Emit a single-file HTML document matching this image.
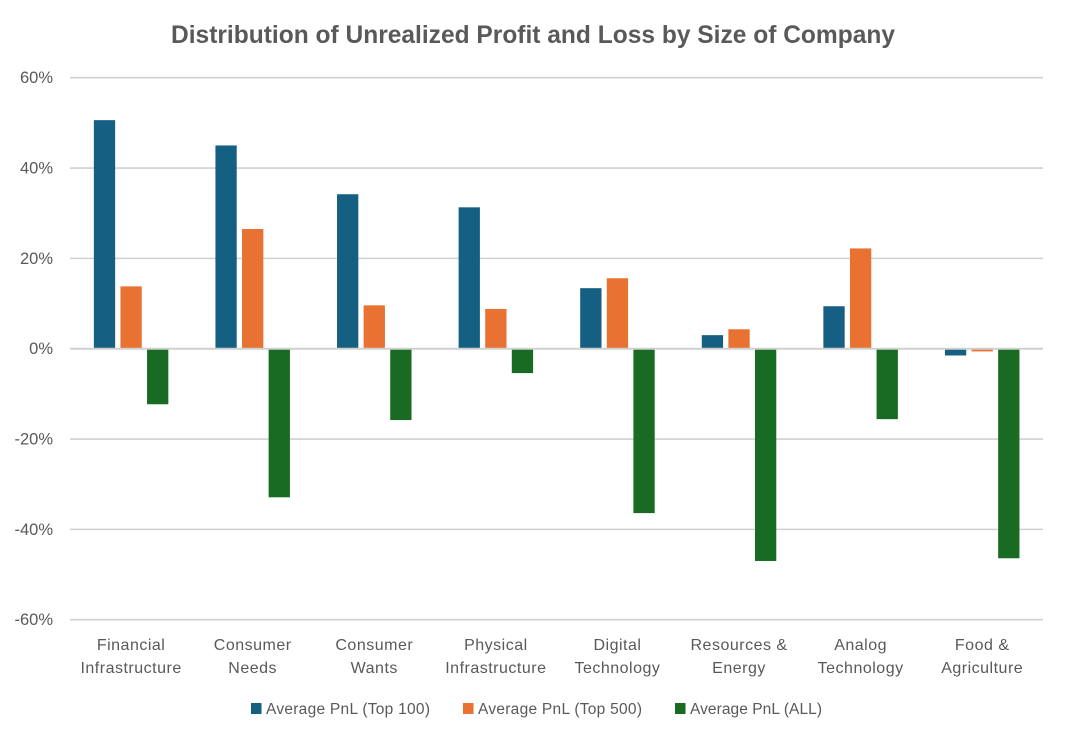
<!DOCTYPE html>
<html lang="en">
<head>
<meta charset="utf-8">
<title>Distribution of Unrealized Profit and Loss by Size of Company</title>
<style>
html,body{margin:0;padding:0;background:#fff;}
svg{display:block;font-family:"Liberation Sans",sans-serif;}
text{fill:#595959;}
</style>
</head>
<body>
<svg id="chart" width="1066" height="739" viewBox="0 0 1066 739" xmlns="http://www.w3.org/2000/svg">
<rect width="1066" height="739" fill="#ffffff"/>
<text x="533" y="43" text-anchor="middle" font-size="25" font-weight="bold" textLength="724" lengthAdjust="spacingAndGlyphs">Distribution of Unrealized Profit and Loss by Size of Company</text>
<g id="grid"></g>
<g id="yticks"></g>
<g id="bars"></g>
<g id="zero"></g>
<g id="xlabels"></g>
<g id="legend"></g>
</svg>
<script>
const categories = [
  ["Financial","Infrastructure"],
  ["Consumer","Needs"],
  ["Consumer","Wants"],
  ["Physical","Infrastructure"],
  ["Digital","Technology"],
  ["Resources &","Energy"],
  ["Analog","Technology"],
  ["Food &","Agriculture"]
];
const top100 = [50.6, 45.0, 34.2, 31.3, 13.4, 3.0, 9.4, -1.5];
const top500 = [13.8, 26.5, 9.6, 8.8, 15.6, 4.3, 22.2, -0.6];
const allCos = [-12.3, -32.9, -15.8, -5.4, -36.4, -47.0, -15.6, -46.4];
const seriesNames = ["Average PnL (Top 100)", "Average PnL (Top 500)", "Average PnL (ALL)"];
const seriesKeys = ["top-100", "top-500", "all"];
const seriesColors = ["#156082", "#E97132", "#196B24"];
const yTicks = [60, 40, 20, 0, -20, -40, -60];

const NS = "http://www.w3.org/2000/svg";
const plotLeft = 70.3, plotRight = 1043, plotTop = 77.7, plotBottom = 619.7;
const yMax = 60, yMin = -60;
function y(v){ return plotTop + (yMax - v) / (yMax - yMin) * (plotBottom - plotTop); }
const band = (plotRight - plotLeft) / categories.length;
const barW = 21.3, barStep = 26.6;
function bandCenter(i){ return plotLeft + band * (i + 0.5); }
function barX(i, s){ return bandCenter(i) + (s - 1) * barStep - barW / 2; }
function make(tag, attrs, parent, txt){
  const el = document.createElementNS(NS, tag);
  for (const k in attrs) el.setAttribute(k, attrs[k]);
  if (txt !== undefined) el.textContent = txt;
  parent.appendChild(el);
  return el;
}

const gridG = document.getElementById("grid");
const tickG = document.getElementById("yticks");
yTicks.forEach(function(t){
  if (t !== 0) {
    const ln = make("line", {x1: 70, x2: plotRight, y1: y(t), y2: y(t), stroke: "#d0d0d0", "stroke-width": 1.6}, gridG);
    
    
  }
  const lb = make("text", {x: 53, y: y(t) + 5.5, "text-anchor": "end", "font-size": 16.5}, tickG, t + "%");
  
  
});

const barsG = document.getElementById("bars");
[top100, top500, allCos].forEach(function(values, s){
  values.forEach(function(v, i){
    const r = make("rect", {
      x: barX(i, s), y: Math.min(y(v), y(0)),
      width: barW, height: Math.abs(y(v) - y(0)), fill: seriesColors[s]
    }, barsG);
    
    
  });
});

const zeroLine = make("line", {x1: 70, x2: plotRight, y1: y(0), y2: y(0), stroke: "#d0d0d0", "stroke-width": 2}, document.getElementById("zero"));



const xG = document.getElementById("xlabels");
categories.forEach(function(lines, i){
  lines.forEach(function(line, j){
    const t = make("text", {x: bandCenter(i), y: 650 + j * 23, "text-anchor": "middle", "font-size": 16, "letter-spacing": 0.5}, xG, line);
    
    
  });
});

const legendG = document.getElementById("legend");
const legendX = [251, 463, 675];
const legendLen = [164, 164, 132];
seriesNames.forEach(function(name, s){
  const sw = make("rect", {x: legendX[s], y: 703, width: 10.5, height: 11, fill: seriesColors[s]}, legendG);
  
  
  const t = make("text", {x: legendX[s] + 15, y: 714, "font-size": 15.5, textLength: legendLen[s], lengthAdjust: "spacing"}, legendG, name);
  
  
});
</script>
</body>
</html>
